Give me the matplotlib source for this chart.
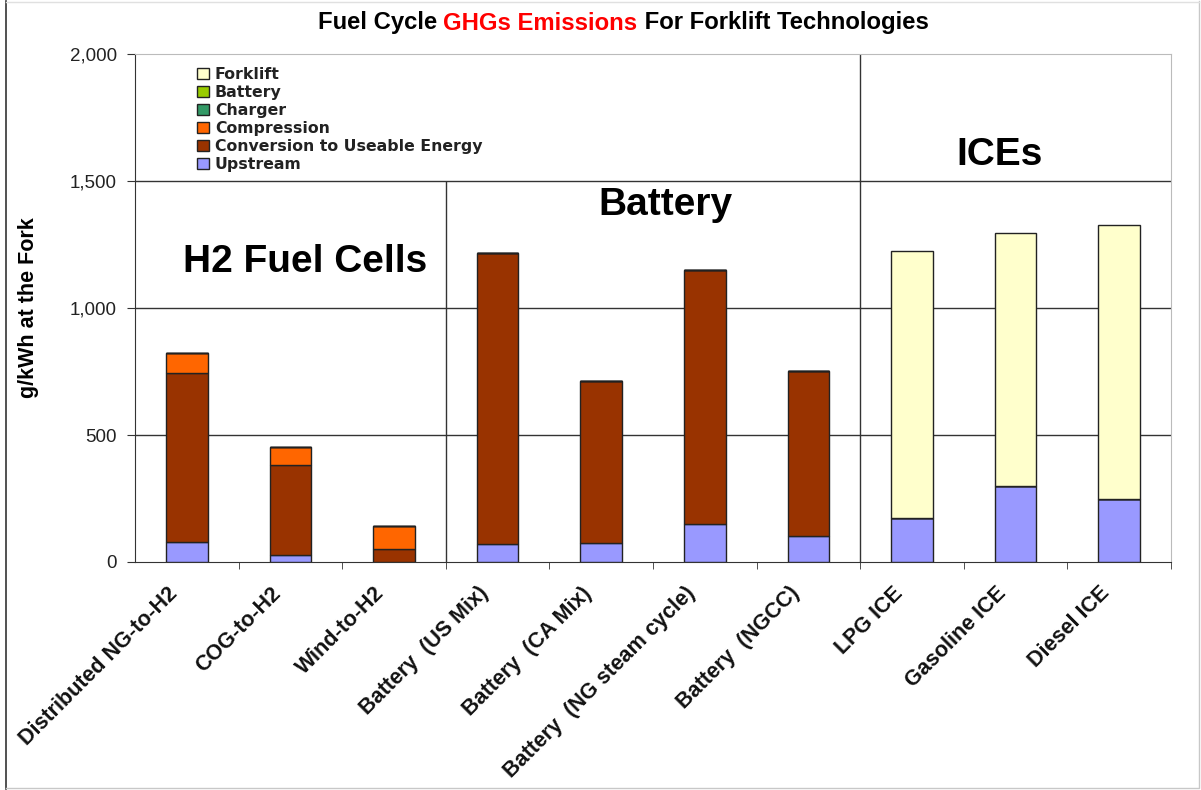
import matplotlib
matplotlib.use("Agg")
import matplotlib.pyplot as plt
import matplotlib.transforms as mtransforms
import numpy as np
from matplotlib.patches import Patch
from matplotlib.lines import Line2D

categories = ["Distributed NG-to-H2", "COG-to-H2", "Wind-to-H2", "Battery  (US Mix)",
              "Battery  (CA Mix)", "Battery  (NG steam cycle)", "Battery  (NGCC)",
              "LPG ICE", "Gasoline ICE", "Diesel ICE"]
upstream    = [79, 28, 0, 71, 75, 150, 102, 173, 299, 248]
conversion  = [665, 354, 51, 1146, 638, 1000, 650, 0, 0, 0]
compression = [77, 71, 91, 0, 0, 0, 0, 0, 0, 0]
charger     = [0] * 10
battery     = [0] * 10
forklift    = [0, 0, 0, 0, 0, 0, 0, 1052, 996, 1079]
ytick_vals = [0, 500, 1000, 1500, 2000]
ytick_labels = ["0", "500", "1,000", "1,500", "2,000"]

series = [("Upstream", upstream, "#9999FF"),
          ("Conversion to Useable Energy", conversion, "#993300"),
          ("Compression", compression, "#FF6600"),
          ("Charger", charger, "#339966"),
          ("Battery", battery, "#99CC00"),
          ("Forklift", forklift, "#FFFFCC")]

plt.rcParams['font.family'] = ['Liberation Sans', 'DejaVu Sans']

fig = plt.figure(figsize=(12.01, 7.90), dpi=100)
ax = fig.add_axes([135/1201, 1-562/790, (1171-135)/1201, (562-54)/790])

x = np.arange(len(categories))
bottom = np.zeros(len(categories))
for name, vals, col in series:
    v = np.array(vals, dtype=float)
    ax.bar(x, v, 0.4, bottom=bottom, color=col, edgecolor="#222222", linewidth=1.0, zorder=3)
    bottom += v

ax.set_xlim(-0.5, len(categories) - 0.5)
ax.set_ylim(0, 2000)
ax.set_yticks(ytick_vals)
ax.set_yticklabels(ytick_labels, fontsize=13.5, color="#222222")
for yv in ytick_vals[1:-1]:
    ax.axhline(yv, color="#333333", linewidth=1.0, zorder=1)
ax.vlines(2.5, 0, 1500, color="#333333", linewidth=1.0, zorder=1)
ax.vlines(6.5, 0, 2000, color="#333333", linewidth=1.0, zorder=1)

ax.set_xticks(x)
ax.set_xticklabels(categories, rotation=45, ha="right", rotation_mode="anchor",
                   fontsize=15.5, fontweight="bold", color="#111111")
ax.tick_params(axis="x", which="major", length=0, pad=15)
offset = mtransforms.ScaledTranslation(-20/100, 0, fig.dpi_scale_trans)
for lab in ax.get_xticklabels():
    lab.set_transform(lab.get_transform() + offset)
ax.set_xticks(np.arange(0.5, len(categories) - 0.5 + 0.01, 1.0), minor=True)
ax.tick_params(axis="x", which="minor", length=5, color="#333333", direction="out")
ax.tick_params(axis="y", length=6, color="#333333", direction="out", pad=7)

for s in ["top", "right"]:
    ax.spines[s].set_color("#bbbbbb")
for s in ["left", "bottom"]:
    ax.spines[s].set_color("#333333")

ax.set_ylabel("g/kWh at the Fork", fontsize=15.5, fontweight="bold", labelpad=22)

ax.text(1.14, 1181, "H2 Fuel Cells", fontsize=28, fontweight="bold", ha="center", va="center", zorder=5)
ax.text(4.62, 1406, "Battery", fontsize=28, fontweight="bold", ha="center", va="center", zorder=5)
ax.text(7.85, 1602, "ICEs", fontsize=28, fontweight="bold", ha="center", va="center", zorder=5)

handles = [Patch(facecolor=c, edgecolor="#222222", label=n) for n, _, c in reversed(series)]
leg = ax.legend(handles=handles, loc="upper left", bbox_to_anchor=(0.054, 0.986), frameon=False,
                prop={"family": "DejaVu Sans", "weight": "bold", "size": 11.3},
                handlelength=0.72, handleheight=0.72, handletextpad=0.4, labelspacing=0.19,
                borderaxespad=0)
for t in leg.get_texts():
    t.set_color("#222222")

# Title with mixed colours
parts = [("Fuel Cycle ", "black"), ("GHGs Emissions", "red"), (" For Forklift Technologies", "black")]
fig.canvas.draw()
r = fig.canvas.get_renderer()
tmp = []
widths = []
for s, c in parts:
    t = fig.text(0, 0, s, fontsize=17.2, fontweight="bold", color=c)
    widths.append(t.get_window_extent(r).width)
    tmp.append(t)
total = sum(widths)
xs = 623 - total / 2
for t, w in zip(tmp, widths):
    t.set_position((xs / 1201, 1 - 23 / 790))
    t.set_va("center")
    xs += w

# figure border
fig.add_artist(Line2D([6/1201, 6/1201], [1/790, 789/790], transform=fig.transFigure, color="#333333", lw=1.2))
fig.add_artist(Line2D([6/1201, 1199/1201, 1199/1201], [2/790, 2/790, 789/790], transform=fig.transFigure,
                      color="#c8c8c8", lw=1.0))
fig.add_artist(Line2D([6/1201, 1199/1201], [788/790, 788/790], transform=fig.transFigure,
                      color="#e0e0e0", lw=1.0))

fig.savefig("out.png", dpi=100)
